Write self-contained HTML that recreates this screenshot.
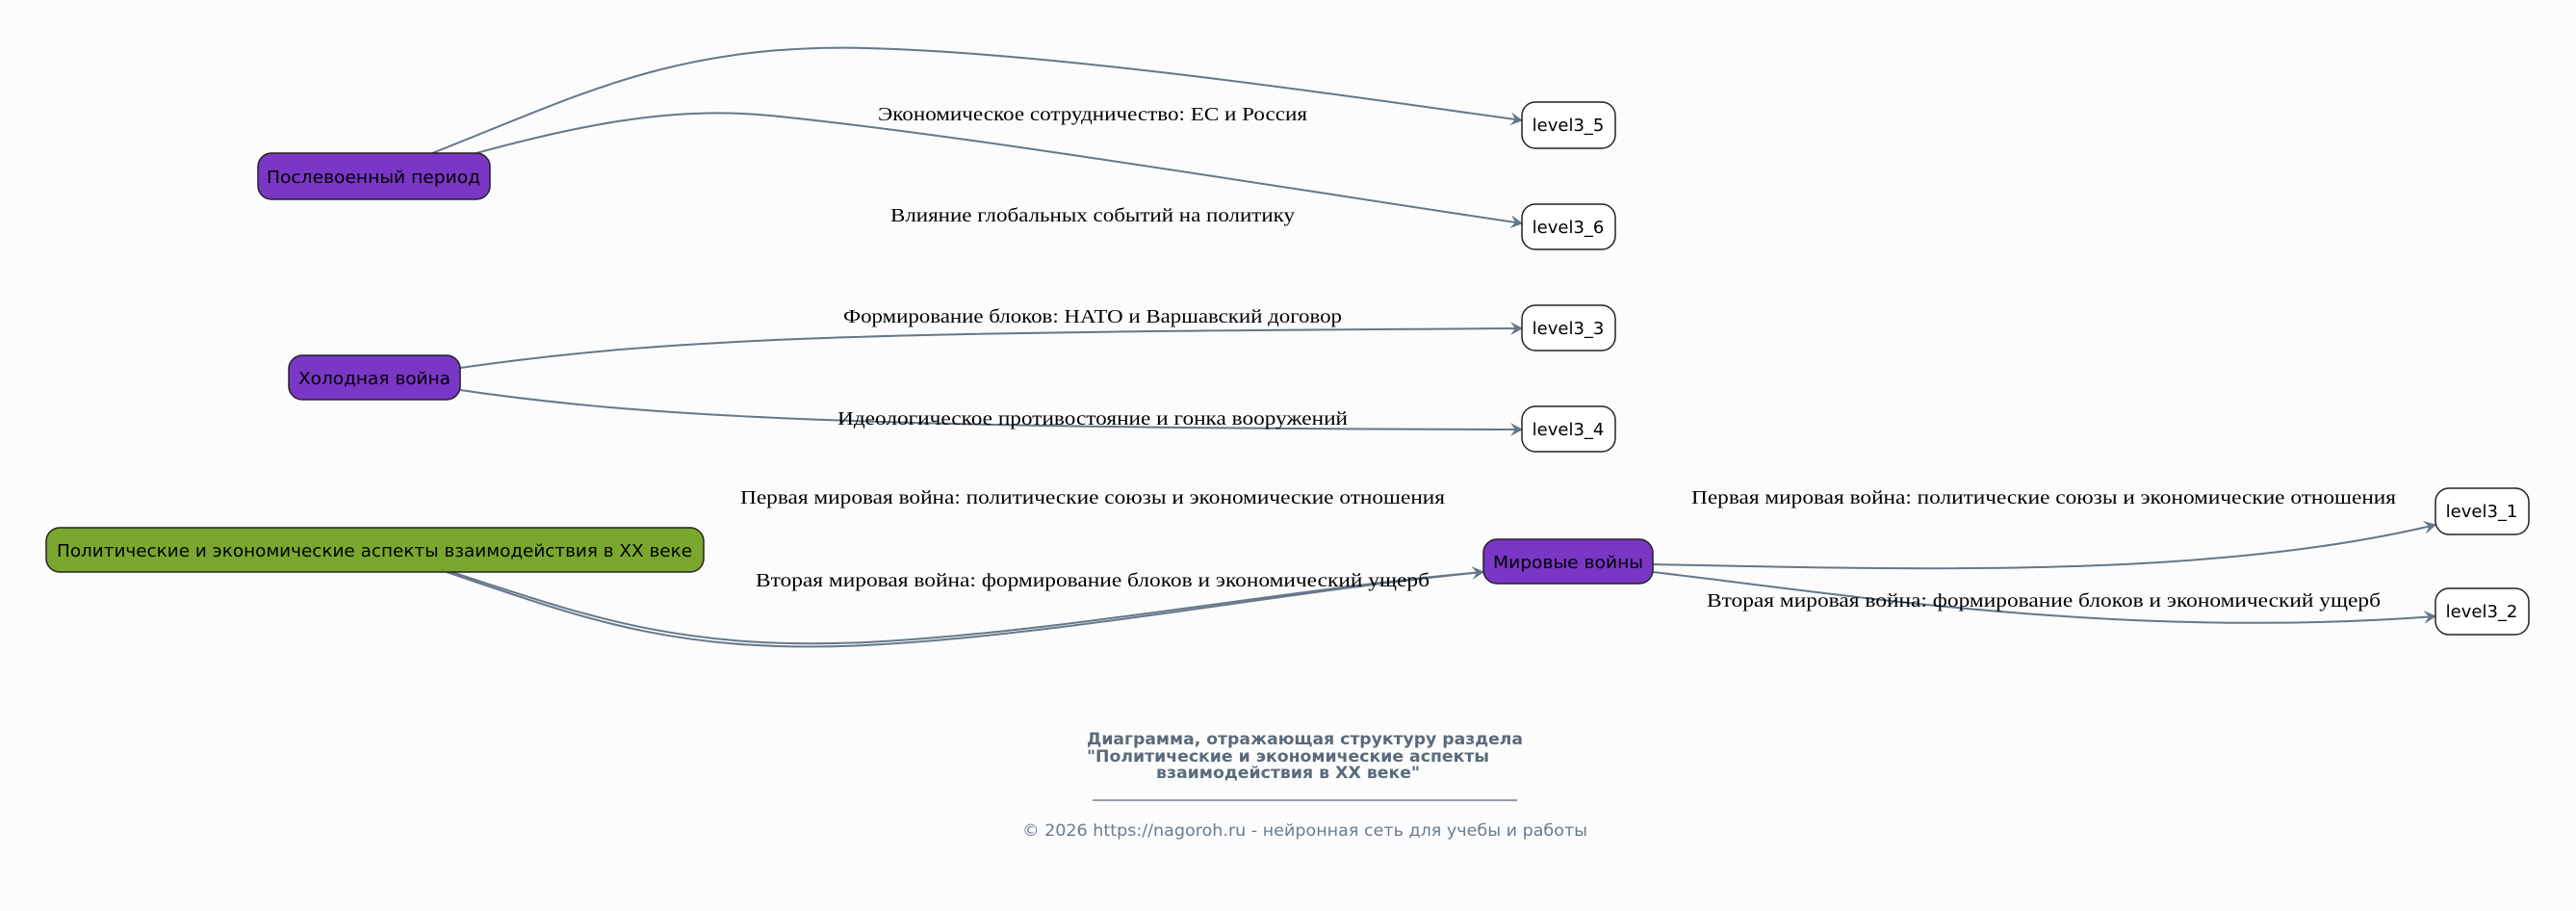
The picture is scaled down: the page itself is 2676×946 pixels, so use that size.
<!DOCTYPE html>
<html><head><meta charset="utf-8"><style>
html,body{margin:0;padding:0;background:#fcfcfc;}
svg{display:block;}
.n{font-family:"DejaVu Sans","Liberation Sans",sans-serif;font-size:18px;fill:#000;}
.l{font-family:"Liberation Serif","DejaVu Serif",serif;font-size:20px;fill:#000;}
.e{fill:none;stroke:#66778a;stroke-width:2;}
</style></head><body>
<svg width="2676" height="946" viewBox="0 0 2676 946" xmlns="http://www.w3.org/2000/svg">
<defs><marker id="a" markerWidth="14" markerHeight="14" refX="12" refY="7" orient="auto" markerUnits="userSpaceOnUse"><path d="M0,0 L13,7 L0,14 L5,7 Z" fill="#66778a"/></marker></defs>
<rect width="2676" height="946" fill="#fcfcfc"/>
<!-- edges -->
<path class="e" marker-end="url(#a)" d="M449,159 C600,100 700,45 900,50 C1100,55 1400,100 1581,125"/>
<path class="e" marker-end="url(#a)" d="M495,159 C600,130 700,110 800,120 C1000,140 1300,190 1581,232"/>
<path class="e" marker-end="url(#a)" d="M478,382 C700,350 900,345 1581,341"/>
<path class="e" marker-end="url(#a)" d="M478,405 C650,430 850,445 1581,446"/>
<path class="e" d="M464,594 C600,640 700,680 900,670 C1100,660 1350,612 1541,594"/>
<path class="e" marker-end="url(#a)" d="M466,593 C602,637 702,676 900,667 C1100,657 1350,610 1541,594"/>
<path class="e" marker-end="url(#a)" d="M1717,586 C2000,592 2300,600 2530,545"/>
<path class="e" marker-end="url(#a)" d="M1717,594 C1900,615 2200,665 2530,640"/>
<!-- nodes -->
<rect x="268" y="159" width="241" height="48" rx="14" fill="#7a36c4" stroke="#222" stroke-width="1.5"/>
<text class="n" x="388" y="190" text-anchor="middle" textLength="222" lengthAdjust="spacingAndGlyphs">Послевоенный период</text>
<rect x="300" y="369" width="178" height="46" rx="14" fill="#7a36c4" stroke="#222" stroke-width="1.5"/>
<text class="n" x="389" y="399" text-anchor="middle" textLength="158" lengthAdjust="spacingAndGlyphs">Холодная война</text>
<rect x="48" y="548" width="683" height="46" rx="14" fill="#7aa82e" stroke="#222" stroke-width="1.5"/>
<text class="n" x="389" y="578" text-anchor="middle" textLength="660" lengthAdjust="spacingAndGlyphs">Политические и экономические аспекты взаимодействия в XX веке</text>
<rect x="1541" y="560" width="176" height="46" rx="14" fill="#7a36c4" stroke="#222" stroke-width="1.5"/>
<text class="n" x="1629" y="590" text-anchor="middle" textLength="156" lengthAdjust="spacingAndGlyphs">Мировые войны</text>
<g fill="#fff" stroke="#222" stroke-width="1.5">
<rect x="1581" y="106" width="97" height="48" rx="14"/>
<rect x="1581" y="212" width="97" height="47" rx="14"/>
<rect x="1581" y="317" width="97" height="47" rx="14"/>
<rect x="1581" y="422" width="97" height="47" rx="14"/>
<rect x="2530" y="507" width="97" height="48" rx="14"/>
<rect x="2530" y="611" width="97" height="48" rx="14"/>
</g>
<text class="n" x="1629" y="136" text-anchor="middle">level3_5</text>
<text class="n" x="1629" y="242" text-anchor="middle">level3_6</text>
<text class="n" x="1629" y="347" text-anchor="middle">level3_3</text>
<text class="n" x="1629" y="452" text-anchor="middle">level3_4</text>
<text class="n" x="2578" y="537" text-anchor="middle">level3_1</text>
<text class="n" x="2578" y="641" text-anchor="middle">level3_2</text>
<!-- labels -->
<text class="l" x="1135" y="125" text-anchor="middle" textLength="446" lengthAdjust="spacingAndGlyphs">Экономическое сотрудничество: ЕС и Россия</text>
<text class="l" x="1135" y="230" text-anchor="middle" textLength="420" lengthAdjust="spacingAndGlyphs">Влияние глобальных событий на политику</text>
<text class="l" x="1135" y="335" text-anchor="middle" textLength="518" lengthAdjust="spacingAndGlyphs">Формирование блоков: НАТО и Варшавский договор</text>
<text class="l" x="1135" y="441" text-anchor="middle" textLength="530" lengthAdjust="spacingAndGlyphs">Идеологическое противостояние и гонка вооружений</text>
<text class="l" x="1135" y="523" text-anchor="middle" textLength="732" lengthAdjust="spacingAndGlyphs">Первая мировая война: политические союзы и экономические отношения</text>
<text class="l" x="1135" y="609" text-anchor="middle" textLength="700" lengthAdjust="spacingAndGlyphs">Вторая мировая война: формирование блоков и экономический ущерб</text>
<text class="l" x="2123" y="523" text-anchor="middle" textLength="732" lengthAdjust="spacingAndGlyphs">Первая мировая война: политические союзы и экономические отношения</text>
<text class="l" x="2123" y="630" text-anchor="middle" textLength="700" lengthAdjust="spacingAndGlyphs">Вторая мировая война: формирование блоков и экономический ущерб</text>
<!-- footer -->
<g font-family="'DejaVu Sans','Liberation Sans',sans-serif" font-weight="bold" font-size="17" fill="#5a6a7c">
<text x="1129" y="773" textLength="453" lengthAdjust="spacingAndGlyphs">Диаграмма, отражающая структуру раздела</text>
<text x="1129" y="791" textLength="418" lengthAdjust="spacingAndGlyphs">"Политические и экономические аспекты</text>
<text x="1201" y="808" textLength="274" lengthAdjust="spacingAndGlyphs">взаимодействия в XX веке"</text>
</g>
<line x1="1135" y1="831" x2="1576" y2="831" stroke="#6b7b8b" stroke-width="1.5"/>
<text x="1062" y="868" font-family="'DejaVu Sans','Liberation Sans',sans-serif" font-size="17" fill="#6b7b8b" textLength="587" lengthAdjust="spacingAndGlyphs">© 2026 https://nagoroh.ru - нейронная сеть для учебы и работы</text>
</svg>
</body></html>
